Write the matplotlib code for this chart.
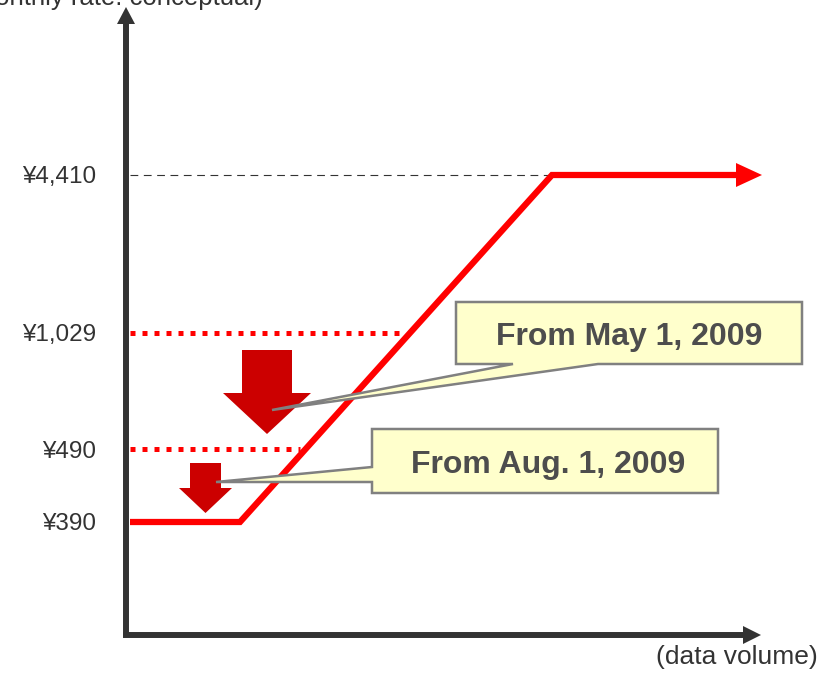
import matplotlib
matplotlib.use("Agg")
import matplotlib.pyplot as plt
from matplotlib.patches import Polygon

plt.rcParams['font.family'] = ['Liberation Sans', 'DejaVu Sans']

# price levels on a conceptual (not to scale) vertical axis
price_labels = ["¥390", "¥490", "¥1,029", "¥4,410"]
price_heights = [113, 186, 302, 460]

# data volume where the flat rate ends, where the cap starts, and the end of the line
volume_start = 4
volume_flat_end = 114
volume_cap_start = 426
volume_end = 636

# how far the old lower limits run to the right
old_limit_reach = {"¥1,029": 274, "¥490": 174}

callout_texts = ["From May 1, 2009", "From Aug. 1, 2009"]

RED = "#ff0000"
DARK_RED = "#cc0000"
AXIS = "#333333"
BOX_FILL = "#ffffcc"
BOX_EDGE = "#808080"

fig = plt.figure(figsize=(8.33, 6.77), dpi=100)
ax = fig.add_axes([0, 0, 1, 1])
ax.set_xlim(-126, 707)
ax.set_ylim(-42, 635)
ax.axis("off")

h = dict(zip(price_labels, price_heights))

# axes with arrow heads
ax.plot([0, 0], [-2, 612], color=AXIS, lw=4.3, solid_capstyle="butt")
ax.add_patch(Polygon([[-9, 611], [9, 611], [0, 628]], closed=True, color=AXIS, lw=0))
ax.plot([-3, 618], [0, 0], color=AXIS, lw=4.3, solid_capstyle="butt")
ax.add_patch(Polygon([[617, 9], [617, -9], [635, 0]], closed=True, color=AXIS, lw=0))

# top price reference line
ax.plot([volume_start, volume_cap_start], [h["¥4,410"]] * 2, color="#333333",
        lw=0.8, dashes=(7, 5))

# old lower limits, shown dotted
for lab in ["¥1,029", "¥490"]:
    ax.plot([volume_start, old_limit_reach[lab]], [h[lab]] * 2, color=RED, lw=3.6,
            linestyle=(0, (1, 1.4)), dash_capstyle="butt")

# tariff line
xs = [volume_start, volume_flat_end, volume_cap_start, volume_end - 24]
ys = [h["¥390"], h["¥390"], h["¥4,410"], h["¥4,410"]]
ax.plot(xs, ys, color=RED, lw=4.5, solid_joinstyle="miter", solid_capstyle="butt")
top = h["¥4,410"]
ax.add_patch(Polygon([[volume_end - 26, top + 12], [volume_end - 26, top - 12],
                      [volume_end, top]], closed=True, color=RED, lw=0))

# price labels
for lab, y in zip(price_labels, price_heights):
    ax.text(-30, y, lab, ha="right", va="center_baseline", fontsize=17.5, color=AXIS)

ax.text(137, 630, "(monthly rate: conceptual)", ha="right", va="baseline",
        fontsize=18.5, color=AXIS)
ax.text(692, -29, "(data volume)", ha="right", va="baseline", fontsize=19, color=AXIS)


def down_arrow(x0, x1, hx0, hx1, y_top, y_neck, y_tip):
    xm = (hx0 + hx1) / 2
    pts = [[x0, y_top], [x1, y_top], [x1, y_neck], [hx1, y_neck], [xm, y_tip],
           [hx0, y_neck], [x0, y_neck]]
    ax.add_patch(Polygon(pts, closed=True, color=DARK_RED, lw=0, zorder=3))


# price reductions
down_arrow(116, 166, 97, 185, 285, 242, 201)
down_arrow(64, 95, 53, 106, 172, 147, 122)

# callout 1: box with wedge from its bottom edge
c1 = [[330, 333], [676, 333], [676, 271], [472, 271], [146, 225], [387, 271], [330, 271]]
ax.add_patch(Polygon(c1, closed=True, facecolor=BOX_FILL, edgecolor=BOX_EDGE,
                     lw=1.8, zorder=4, joinstyle="miter"))
ax.text(503, 298, callout_texts[0], ha="center", va="center", fontsize=23,
        fontweight="bold", color="#4d4d4d", zorder=5)

# callout 2: box with wedge from its left edge
c2 = [[246, 206], [592, 206], [592, 142], [246, 142], [246, 153], [90, 153], [246, 168]]
ax.add_patch(Polygon(c2, closed=True, facecolor=BOX_FILL, edgecolor=BOX_EDGE,
                     lw=1.8, zorder=4, joinstyle="miter"))
ax.text(422, 170, callout_texts[1], ha="center", va="center", fontsize=23,
        fontweight="bold", color="#4d4d4d", zorder=5)

fig.savefig("out.png", dpi=100)
